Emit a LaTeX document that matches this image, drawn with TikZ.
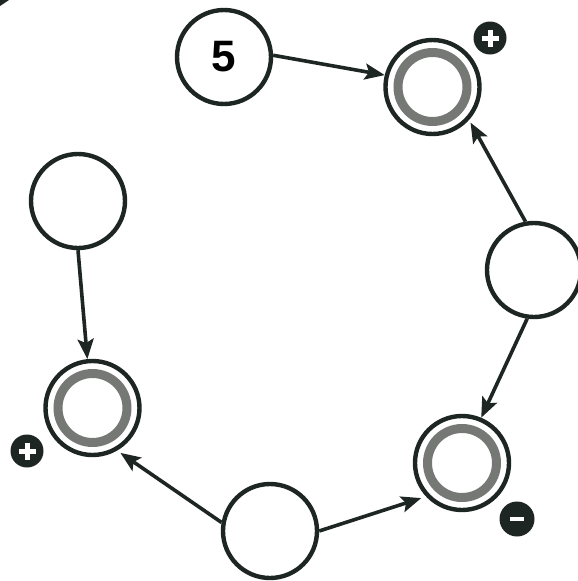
\documentclass[tikz,border=0pt]{standalone}
\usepackage{fontspec}
\setmainfont{Liberation Sans}
\usetikzlibrary{arrows.meta}
\definecolor{ink}{RGB}{30,38,35}
\definecolor{ringgray}{RGB}{118,120,118}
\begin{document}
\begin{tikzpicture}[x=1pt,y=-1pt,
  state/.style={circle,draw=ink,line width=4.4pt,minimum size=94pt,inner sep=0pt,fill=white},
  ringc/.style={draw=ringgray,line width=9pt},
  arr/.style={draw=ink,line width=3.6pt,-{Stealth[length=20pt,width=16pt,inset=4pt]}},
  badge/.style={circle,fill=ink,minimum size=33pt,inner sep=0pt},
  sign/.style={draw=white,line width=5pt}]
\useasboundingbox (0,0) rectangle (578,581);
\fill[white] (0,0) rectangle (578,581);
\fill[ink] (0,0) -- (9,0) -- (0,6) -- cycle;

\node[state,font=\fontsize{44pt}{44pt}\selectfont\bfseries] (five) at (224,57) {5};
\node[state] (tr) at (432.5,87) {};
\node[state] (lt) at (78,201) {};
\node[state] (rt) at (534,270) {};
\node[state] (ld) at (92.5,408) {};
\node[state] (br) at (462,463) {};
\node[state] (bt) at (270,531) {};

\draw[ringc] (tr.center) circle[radius=34.5pt];
\draw[ringc] (ld.center) circle[radius=34.5pt];
\draw[ringc] (br.center) circle[radius=34.5pt];

\node[badge] (p1) at (490,38) {};
\draw[sign] (p1.center) ++(-8.5,0) -- ++(17,0) (p1.center) ++(0,-8.5) -- ++(0,17);
\node[badge] (p2) at (27,451) {};
\draw[sign] (p2.center) ++(-8.5,0) -- ++(17,0) (p2.center) ++(0,-8.5) -- ++(0,17);
\node[badge,minimum size=35pt] (m1) at (517,519) {};
\draw[draw=white,line width=4pt] (m1.center) ++(-7,0) -- ++(14,0);

\draw[arr] (five.2) -- (tr.166);
\draw[arr,shorten >=3pt] (rt.100) -- (tr.-42);
\draw[arr] (rt.-98) -- (br.67);
\draw[arr,shorten >=5pt] (bt.0) -- (br.223);
\draw[arr,shorten >=4pt] (bt.170) -- (ld.-60);
\draw[arr] (lt.-90) -- (ld.96);
\end{tikzpicture}
\end{document}
